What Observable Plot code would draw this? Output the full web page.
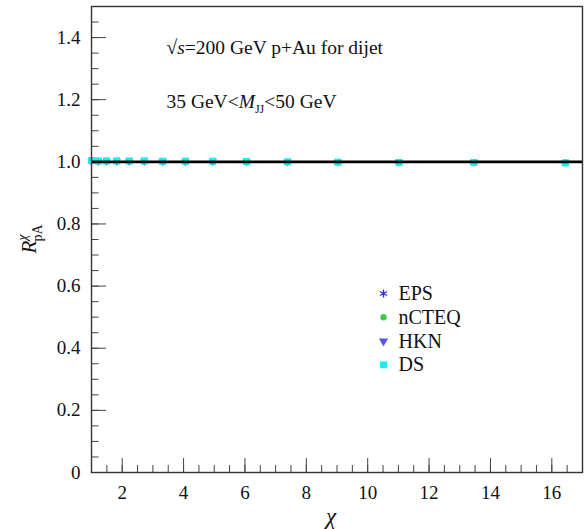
<!DOCTYPE html>
<html><head><meta charset="utf-8">
<script src="https://cdn.jsdelivr.net/npm/d3@7"></script>
<script src="https://cdn.jsdelivr.net/npm/@observablehq/plot@0.6"></script>
<style>body{margin:0;background:#fff;}</style>
</head><body><div id="chart"></div>
<script>
// ---- data ----
const chi = [1.0, 1.22, 1.49, 1.82, 2.23, 2.72, 3.32, 4.06, 4.95, 6.05, 7.39, 9.03, 11.02, 13.46, 16.44];
const rEPS   = [1.003, 1.003, 1.003, 1.003, 1.002, 1.002, 1.002, 1.002, 1.001, 1.001, 1.000, 0.999, 0.998, 0.998, 0.997];
const rNCTEQ = [1.003, 1.003, 1.003, 1.002, 1.002, 1.002, 1.002, 1.001, 1.001, 1.001, 1.000, 0.999, 0.999, 0.998, 0.998];
const rHKN   = [1.002, 1.002, 1.002, 1.002, 1.002, 1.002, 1.001, 1.001, 1.001, 1.000, 1.000, 0.999, 0.999, 0.998, 0.998];
const rDS    = [1.004, 1.003, 1.003, 1.003, 1.003, 1.003, 1.002, 1.002, 1.002, 1.001, 1.000, 0.999, 0.998, 0.998, 0.997];
const seriesNames = ["EPS", "nCTEQ", "HKN", "DS"];
const seriesValues = [rEPS, rNCTEQ, rHKN, rDS];
const xTicks = [2, 4, 6, 8, 10, 12, 14, 16];
const xTickLabels = ["2", "4", "6", "8", "10", "12", "14", "16"];
const yTicks = [0, 0.2, 0.4, 0.6, 0.8, 1.0, 1.2, 1.4];
const yTickLabels = ["0", "0.2", "0.4", "0.6", "0.8", "1.0", "1.2", "1.4"];
const refLine = [1];

// ---- styles ----
const colors = {EPS: "#2b2bf0", nCTEQ: "#44c84a", HKN: "#5555e6", DS: "#18ecec"};
const symbols = {EPS: "asterisk", nCTEQ: "circle", HKN: "triangle", DS: "square"};

const table = [];
seriesNames.forEach((s, k) => chi.forEach((c, i) => table.push({series: s, chi: c, r: seriesValues[k][i]})));

const xMinor = d3.range(1, 17.001, 0.5);
const yMinor = d3.range(0, 1.5001, 0.05);
const FONT = "'Liberation Serif', 'Times New Roman', serif";

function seriesMark(s) {
  const data = table.filter(d => d.series === s);
  const o = {x: "chi", y: "r", symbol: symbols[s], r: s === "DS" ? 4 : 3};
  if (s === "EPS") return Plot.dot(data, {...o, stroke: colors[s], strokeWidth: 1.3, fill: "none"});
  if (s === "HKN") return Plot.dot(data, {...o, fill: colors[s], rotate: 180});
  return Plot.dot(data, {...o, fill: colors[s]});
}

function legendMarks(s, i) {
  const dy = 287 + i * 23.8;
  const o = {frameAnchor: "top-left", dy, symbol: symbols[s], r: s === "nCTEQ" ? 3.2 : 3.8};
  const dot = s === "EPS" ? Plot.dot([s], {...o, dx: 292, stroke: colors[s], strokeWidth: 1.3, fill: "none"})
            : s === "HKN" ? Plot.dot([s], {...o, dx: 292, fill: colors[s], rotate: 180, r: 3.4})
            : Plot.dot([s], {...o, dx: 292, fill: colors[s]});
  const txt = Plot.text([s], {frameAnchor: "top-left", dx: 307, dy, text: d => d, textAnchor: "start", lineAnchor: "middle", fontSize: 20, fill: "#111"});
  return [dot, txt];
}

const chart = Plot.plot({
  width: 588, height: 529,
  marginLeft: 91, marginRight: 6, marginTop: 6, marginBottom: 57,
  style: {fontFamily: FONT, fontSize: "19px", background: "#fff", color: "#111"},
  x: {domain: [1, 17]},
  y: {domain: [0, 1.5]},
  marks: [
    // tick labels
    Plot.axisY({ticks: yTicks, tickSize: 0, tickPadding: 11, tickFormat: (d, i) => yTickLabels[i], label: null, fontSize: 19, fill: "#111"}),
    Plot.axisX({ticks: xTicks, tickSize: 0, tickPadding: 13, tickFormat: (d, i) => xTickLabels[i], label: null, fontSize: 19, fill: "#111"}),
    // inward ticks
    Plot.axisY({ticks: yTicks, tickSize: -15, tickFormat: () => "", label: null, stroke: "#444"}),
    Plot.axisY({ticks: yMinor, tickSize: -7.5, tickFormat: () => "", label: null, stroke: "#444"}),
    Plot.axisX({ticks: xTicks, tickSize: -14, tickFormat: () => "", label: null, stroke: "#444"}),
    Plot.axisX({ticks: xMinor, tickSize: -7, tickFormat: () => "", label: null, stroke: "#444"}),
    // data
    ...seriesNames.map(seriesMark),
    Plot.ruleY(refLine, {stroke: "#000", strokeWidth: 2.6}),
    Plot.frame({stroke: "#333", strokeWidth: 1.4}),
    // legend
    ...seriesNames.flatMap(legendMarks),
    // annotations
    Plot.text(["note1"], {frameAnchor: "top-left", dx: 75, dy: 41, text: d => d, textAnchor: "start", lineAnchor: "middle", fontSize: 19.5, fill: "#111"}),
    Plot.text(["note2"], {frameAnchor: "top-left", dx: 75, dy: 95, text: d => d, textAnchor: "start", lineAnchor: "middle", fontSize: 19.5, fill: "#111"}),
    Plot.text(["χ"], {frameAnchor: "bottom", dx: -6, dy: 44, text: d => d, fontSize: 23, fontStyle: "italic", fill: "#111", lineAnchor: "middle"}),
    Plot.text(["ylab"], {frameAnchor: "left", dx: -62, dy: 14, text: d => d, rotate: -90, fontSize: 21, fill: "#111", lineAnchor: "middle"})
  ]
});

document.getElementById("chart").appendChild(chart);

// rich text (italics, sub/superscripts)
const svg = d3.select(chart);
const byText = t => svg.selectAll("text").filter(function () { return this.textContent === t; });

const n1 = byText("note1");
n1.text("");
n1.append("tspan").text("√");
n1.append("tspan").attr("font-style", "italic").text("s");
n1.append("tspan").text("=200 GeV p+Au for dijet");

const n2 = byText("note2");
n2.text("");
n2.append("tspan").text("35 GeV<");
n2.append("tspan").attr("font-style", "italic").text("M");
n2.append("tspan").attr("font-size", 12).attr("dy", 5).text("JJ");
n2.append("tspan").attr("dy", -5).text("<50 GeV");

const yl = byText("ylab");
yl.text("");
yl.append("tspan").attr("font-style", "italic").text("R");
yl.append("tspan").attr("font-style", "italic").attr("font-size", 14).attr("dy", -9).text("χ");
yl.append("tspan").attr("font-size", 14).attr("dx", -7).attr("dy", 15).text("pA");
</script>
</body></html>
